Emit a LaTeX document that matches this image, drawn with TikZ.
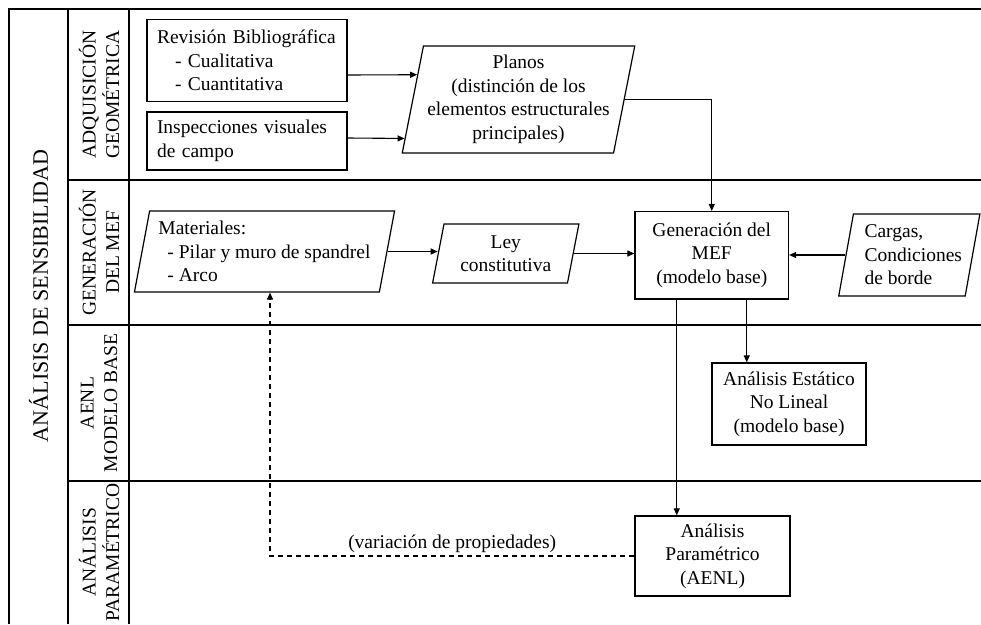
\documentclass[tikz,border=0pt]{standalone}
\usepackage{fontspec}
\setmainfont{Liberation Serif}
\usetikzlibrary{arrows.meta,shapes.geometric,calc}
\begin{document}
\begin{tikzpicture}[x=1pt,y=-1pt,
  every node/.style={font=\fontsize{19.5pt}{23.5pt}\selectfont},
  box/.style={draw,line width=1.2pt,rectangle,inner sep=0pt,align=center},
  lbox/.style={draw,line width=1.2pt,rectangle,inner xsep=10pt,inner ysep=0pt,align=left,text width=180pt},
  para/.style={draw,line width=1.2pt,trapezium,trapezium left angle=77,trapezium right angle=103,trapezium stretches=true,inner sep=0pt,align=center},
  conn/.style={line width=1.1pt,-{Triangle[length=7pt,width=6pt]}},
  dconn/.style={line width=1.1pt,dash pattern=on 5pt off 4pt,-{Triangle[length=7pt,width=6pt]}},
  gridline/.style={line width=1.5pt},
  lane/.style={rotate=90,align=center,inner sep=0pt}]
\useasboundingbox (0,0) rectangle (981,624);

% table
\draw[gridline] (9,624) -- (9,9) -- (981,9);
\draw[gridline] (68,9) -- (68,624);
\draw[gridline] (129,9) -- (129,624);
\draw[gridline] (68,180) -- (981,180);
\draw[gridline] (68,325) -- (981,325);
\draw[gridline] (68,481) -- (981,481);

\node[rotate=90,inner sep=0pt,font=\fontsize{22pt}{26pt}\selectfont] (title) at (38.5,296) {ANÁLISIS DE SENSIBILIDAD};
\node[lane] (l1) at (99,94.5) {ADQUISICIÓN\\GEOMÉTRICA};
\node[lane] (l2) at (99,252.5) {GENERACIÓN\\DEL MEF};
\node[lane] (l3) at (99,403) {AENL\\MODELO BASE};
\node[lane] (l4) at (99,552.5) {ANÁLISIS\\PARAMÉTRICO};

% nodes
\node[lbox,minimum height=82pt] (rev) at (247,60.5) {Revisión Bibliográfica\\\hspace*{18pt}- Cualitativa\\\hspace*{18pt}- Cuantitativa};
\node[lbox,minimum height=58pt] (insp) at (247,141) {Inspecciones visuales\\de campo};
\node[para,minimum width=233pt,minimum height=107pt] (planos) at (518.5,99.5) {Planos\\(distinción de los\\elementos estructurales\\principales)};
\node[para,align=left,minimum width=261pt,minimum height=81pt] (mat) at (264.5,251.5) {Materiales:\\\hspace*{9pt}- Pilar y muro de spandrel\\\hspace*{9pt}- Arco};
\node[para,minimum width=146.5pt,minimum height=59pt] (ley) at (505.75,253.5) {Ley\\constitutiva};
\node[box,minimum width=153.5pt,minimum height=87.5pt] (mef) at (711.75,255.25) {Generación del\\MEF\\(modelo base)};
\node[para,align=left,minimum width=141.4pt,minimum height=82pt] (cargas) at (909.3,255) {\hspace*{8pt}Cargas,\\\hspace*{8pt}Condiciones\\\hspace*{8pt}de borde};
\node[box,minimum width=154pt,minimum height=82pt] (est) at (789,404) {Análisis Estático\\No Lineal\\(modelo base)};
\node[box,minimum width=155pt,minimum height=80pt] (par) at (712.5,556) {Análisis\\Paramétrico\\(AENL)};

% connectors
\draw[conn] ([yshift=-14.5pt]rev.east) -- ($(planos.bottom left corner)!0.729!(planos.top left corner)$);
\draw[conn] ([yshift=3pt]insp.east) -- ($(planos.bottom left corner)!0.14!(planos.top left corner)$);
\draw[conn] (planos.east) -| (mef.north);
\draw[conn] (mat.east) -- (mat.east -| ley.west);
\draw[conn] (ley.east) -- (ley.east -| mef.west);
\draw[conn] (cargas.west) -- (cargas.west -| mef.east);
\draw[conn] ([xshift=35pt]mef.south) -- ([xshift=35pt]mef.south |- est.north);
\draw[conn] ([xshift=-35pt]mef.south) -- ([xshift=-35pt]mef.south |- par.north);
\draw[dconn] (par.west) -| ([xshift=5.5pt]mat.center |- mat.south) node[pos=0.25,above=-1pt] (lbl) {(variación de propiedades)};
\end{tikzpicture}
\end{document}
